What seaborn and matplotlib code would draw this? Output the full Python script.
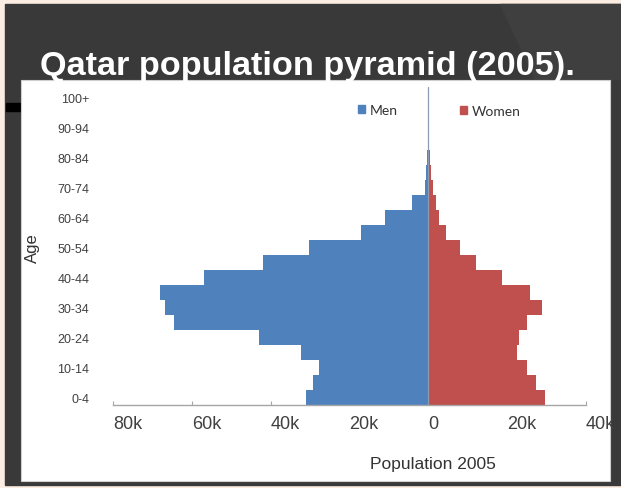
import matplotlib
matplotlib.use("Agg")
import matplotlib.pyplot as plt
import matplotlib.transforms as mtransforms
from matplotlib.patches import Rectangle, Polygon
import pandas as pd
import seaborn as sns

# data (thousands), bottom age group first
age_groups = ["0-4", "5-9", "10-14", "15-19", "20-24", "25-29", "30-34",
              "35-39", "40-44", "45-49", "50-54", "55-59", "60-64", "65-69",
              "70-74", "75-79", "80-84", "85-89", "90-94", "95-99", "100+"]
men = [31.1, 29.3, 27.8, 32.2, 43.0, 64.6, 66.7, 68.1, 57.0, 42.0, 30.3,
       17.0, 10.9, 4.1, 0.8, 0.5, 0.3, 0.2, 0.15, 0.1, 0.05]
women = [29.5, 27.3, 25.1, 22.6, 23.0, 25.1, 28.9, 25.7, 18.6, 12.2, 8.0,
         4.6, 2.8, 1.9, 1.1, 0.7, 0.4, 0.25, 0.15, 0.1, 0.05]
x_ticks = [-80000, -60000, -40000, -20000, 0, 20000, 40000]
x_tick_labels = ["80k", "60k", "40k", "20k", "0", "20k", "40k"]

W, H = 621, 489
blue = "#4f81bd"
red = "#c0504d"
sans = ["Liberation Sans", "DejaVu Sans"]


def px_box(x0, y0, x1, y1):
    return [x0 / W, 1 - y1 / H, (x1 - x0) / W, (y1 - y0) / H]


sns.set_theme(style="white")
plt.rcParams["font.family"] = sans

fig = plt.figure(figsize=(W / 100, H / 100), dpi=100)

# slide background
bg = fig.add_axes([0, 0, 1, 1])
bg.set_xlim(0, W)
bg.set_ylim(H, 0)
bg.axis("off")
bg.add_patch(Rectangle((0, 0), W, H, color="#fcede3"))
bg.add_patch(Rectangle((5, 5), W - 5, 481, color="#393939"))
bg.add_patch(Polygon([(500, 5), (W, 5), (W, 80), (535, 80)], color="#3f3f3f"))
bg.add_patch(Rectangle((6, 104), 15, 8, color="black"))
bg.add_patch(Rectangle((21, 81), 589, 401, facecolor="white",
                       edgecolor="#cfcfcf", lw=0.8))
bg.text(40, 75, "Qatar population pyramid (2005).", color="white",
        fontsize=24.7, fontweight="bold", ha="left", va="baseline")

# legend drawn by hand like the Excel one
bg.add_patch(Rectangle((358, 106), 7, 8, color=blue))
bg.text(370, 111, "Men", fontsize=10, color="#333333", va="center",
        family=["Lato", "DejaVu Sans"])
bg.add_patch(Rectangle((460, 107), 7, 8, color=red))
bg.text(472, 112, "Women", fontsize=10, color="#333333", va="center",
        family=["Lato", "DejaVu Sans"])

df = pd.DataFrame({
    "age": age_groups,
    "men": [-v * 1000 for v in men],
    "women": [v * 1000 for v in women],
})
order = age_groups[::-1]

ax = fig.add_axes(px_box(113, 91, 586, 406))
ax.set_facecolor("none")
sns.barplot(data=df, x="men", y="age", order=order, orient="h", color=blue,
            width=1.0, saturation=1, linewidth=0, errorbar=None, ax=ax)
sns.barplot(data=df, x="women", y="age", order=order, orient="h", color=red,
            width=1.0, saturation=1, linewidth=0, errorbar=None, ax=ax)

ax.set_xlim(-80000, 40000)
ax.set_ylim(len(order) - 0.5, -0.5)
ax.axvline(0, ymax=1.01, color="#8c9bb0", lw=0.9, clip_on=False)

for side in ["top", "right", "left"]:
    ax.spines[side].set_visible(False)
ax.spines["bottom"].set_color("#a6a6a6")
ax.spines["bottom"].set_linewidth(1.0)

ax.set_xticks(x_ticks)
ax.set_xticklabels(x_tick_labels, fontsize=13, color="#404040", ha="left")
shift = mtransforms.ScaledTranslation(-4 / 100, 0, fig.dpi_scale_trans)
for lab in ax.get_xticklabels():
    lab.set_transform(lab.get_transform() + shift)
ax.tick_params(axis="x", direction="in", length=3, width=0.8,
               color="#a6a6a6", pad=7, bottom=True)

ax.set_yticks(range(0, len(order), 2))
ax.set_yticklabels(order[::2], fontsize=9, color="#404040")
ax.tick_params(axis="y", length=0, pad=17)

ax.set_xlabel("Population 2005", fontsize=12.5, color="#333333")
ax.xaxis.set_label_coords((433 - 113) / 473, (406 - 465) / 315)
ax.xaxis.label.set_va("center")
ax.set_ylabel("Age", fontsize=12, color="#333333")
ax.yaxis.set_label_coords((40 - 113) / 473, 0.5)

fig.savefig("out.png", dpi=100)
